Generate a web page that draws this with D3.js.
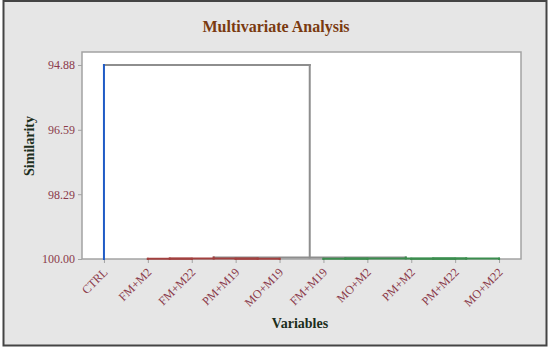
<!DOCTYPE html>
<html>
<head>
<meta charset="utf-8">
<script src="https://cdn.jsdelivr.net/npm/d3@7"></script>
<style>
  body { margin: 0; background: #fff; }
  text { font-family: "Liberation Serif", "Times New Roman", serif; }
</style>
</head>
<body>
<div id="chart"></div>
<script>
// leaves in dendrogram order
const variables = ['CTRL', 'FM+M2', 'FM+M22', 'PM+M19', 'MO+M19', 'FM+M19', 'MO+M2', 'PM+M2', 'PM+M22', 'MO+M22'];
// final partition: 0 = CTRL, 1 = red group, 2 = green group
const groups = [0, 1, 1, 1, 1, 2, 2, 2, 2, 2];
// amalgamation steps (new cluster id = variables.length + step)
const joinA = [1, 3, 10, 5, 7, 14, 13, 12, 0];
const joinB = [2, 4, 11, 6, 8, 9, 15, 16, 17];
const joinLevel = [99.995, 99.995, 99.99, 99.995, 99.995, 99.99, 99.985, 99.96, 94.88];
const yTicks = [94.88, 96.59, 98.29, 100.00];

const width = 550, height = 350;
const margin = { top: 52, right: 29, bottom: 91, left: 82 };
const groupColor = ['#1f5bc6', '#a2403f', '#3b8d4e'];
const linkGray = '#8e8e8e';

const svg = d3.select('#chart')
  .append('svg')
  .attr('width', width)
  .attr('height', height);

// outer frame
svg.append('rect')
  .attr('x', 3.5).attr('y', 1)
  .attr('width', 543).attr('height', 344.5)
  .attr('fill', '#e6e6e6')
  .attr('stroke', '#444')
  .attr('stroke-width', 2);

const x = d3.scalePoint()
  .domain(variables)
  .range([margin.left, width - margin.right])
  .padding(0.5);

const y = d3.scaleLinear()
  .domain([94.537, 100])
  .range([margin.top, height - margin.bottom]);

// plot area
svg.append('rect')
  .attr('x', margin.left).attr('y', margin.top)
  .attr('width', width - margin.left - margin.right)
  .attr('height', height - margin.top - margin.bottom)
  .attr('fill', '#fff')
  .attr('stroke', '#a3a3a3')
  .attr('stroke-width', 1.5);

// axes
const yAxis = svg.append('g')
  .attr('transform', `translate(${margin.left},0)`)
  .call(d3.axisLeft(y).tickValues(yTicks).tickFormat(d3.format('.2f')).tickSize(4).tickPadding(3));
yAxis.select('.domain').remove();
yAxis.selectAll('line').attr('stroke', '#a3a3a3');
yAxis.selectAll('text')
  .attr('fill', '#8b3a4a')
  .style('font-size', '12px');

const xAxis = svg.append('g')
  .attr('transform', `translate(0,${height - margin.bottom})`)
  .call(d3.axisBottom(x).tickSize(4));
xAxis.select('.domain').remove();
xAxis.selectAll('line').attr('stroke', '#a3a3a3');
xAxis.selectAll('text')
  .attr('fill', '#8b3a4a')
  .style('font-size', '12px')
  .attr('text-anchor', 'end')
  .attr('dy', 0)
  .attr('y', 0)
  .attr('transform', 'translate(4,14) rotate(-45)');

// build cluster positions from the joins
const nodes = variables.map((v, i) => ({ x: x(v), h: 100, group: groups[i] }));
const links = [];
joinA.forEach((a, i) => {
  const b = joinB[i];
  const level = joinLevel[i];
  const na = nodes[a], nb = nodes[b];
  const g = na.group === nb.group ? na.group : null;
  links.push({ x1: na.x, y1: na.h, x2: na.x, y2: level, group: na.group });
  links.push({ x1: nb.x, y1: nb.h, x2: nb.x, y2: level, group: nb.group });
  links.push({ x1: na.x, y1: level, x2: nb.x, y2: level, group: g });
  nodes.push({ x: (na.x + nb.x) / 2, h: level, group: g });
});

// grey links first so coloured ones sit on top
links.sort((p, q) => (p.group === null ? 0 : 1) - (q.group === null ? 0 : 1));

svg.append('g')
  .selectAll('line')
  .data(links)
  .join('line')
  .attr('x1', d => d.x1)
  .attr('y1', d => y(d.y1))
  .attr('x2', d => d.x2)
  .attr('y2', d => y(d.y2))
  .attr('stroke', d => d.group === null ? linkGray : groupColor[d.group])
  .attr('stroke-width', 2)
  .attr('stroke-linecap', 'square');

// titles
svg.append('text')
  .attr('x', 276).attr('y', 32)
  .attr('text-anchor', 'middle')
  .attr('fill', '#7a3a10')
  .style('font-size', '16px')
  .style('font-weight', 'bold')
  .text('Multivariate Analysis');

svg.append('text')
  .attr('x', 300).attr('y', 328)
  .attr('text-anchor', 'middle')
  .attr('fill', '#1c2e1c')
  .style('font-size', '14px')
  .style('font-weight', 'bold')
  .text('Variables');

svg.append('text')
  .attr('transform', 'translate(34,146) rotate(-90)')
  .attr('text-anchor', 'middle')
  .attr('fill', '#1c2e1c')
  .style('font-size', '14px')
  .style('font-weight', 'bold')
  .text('Similarity');
</script>
</body>
</html>
